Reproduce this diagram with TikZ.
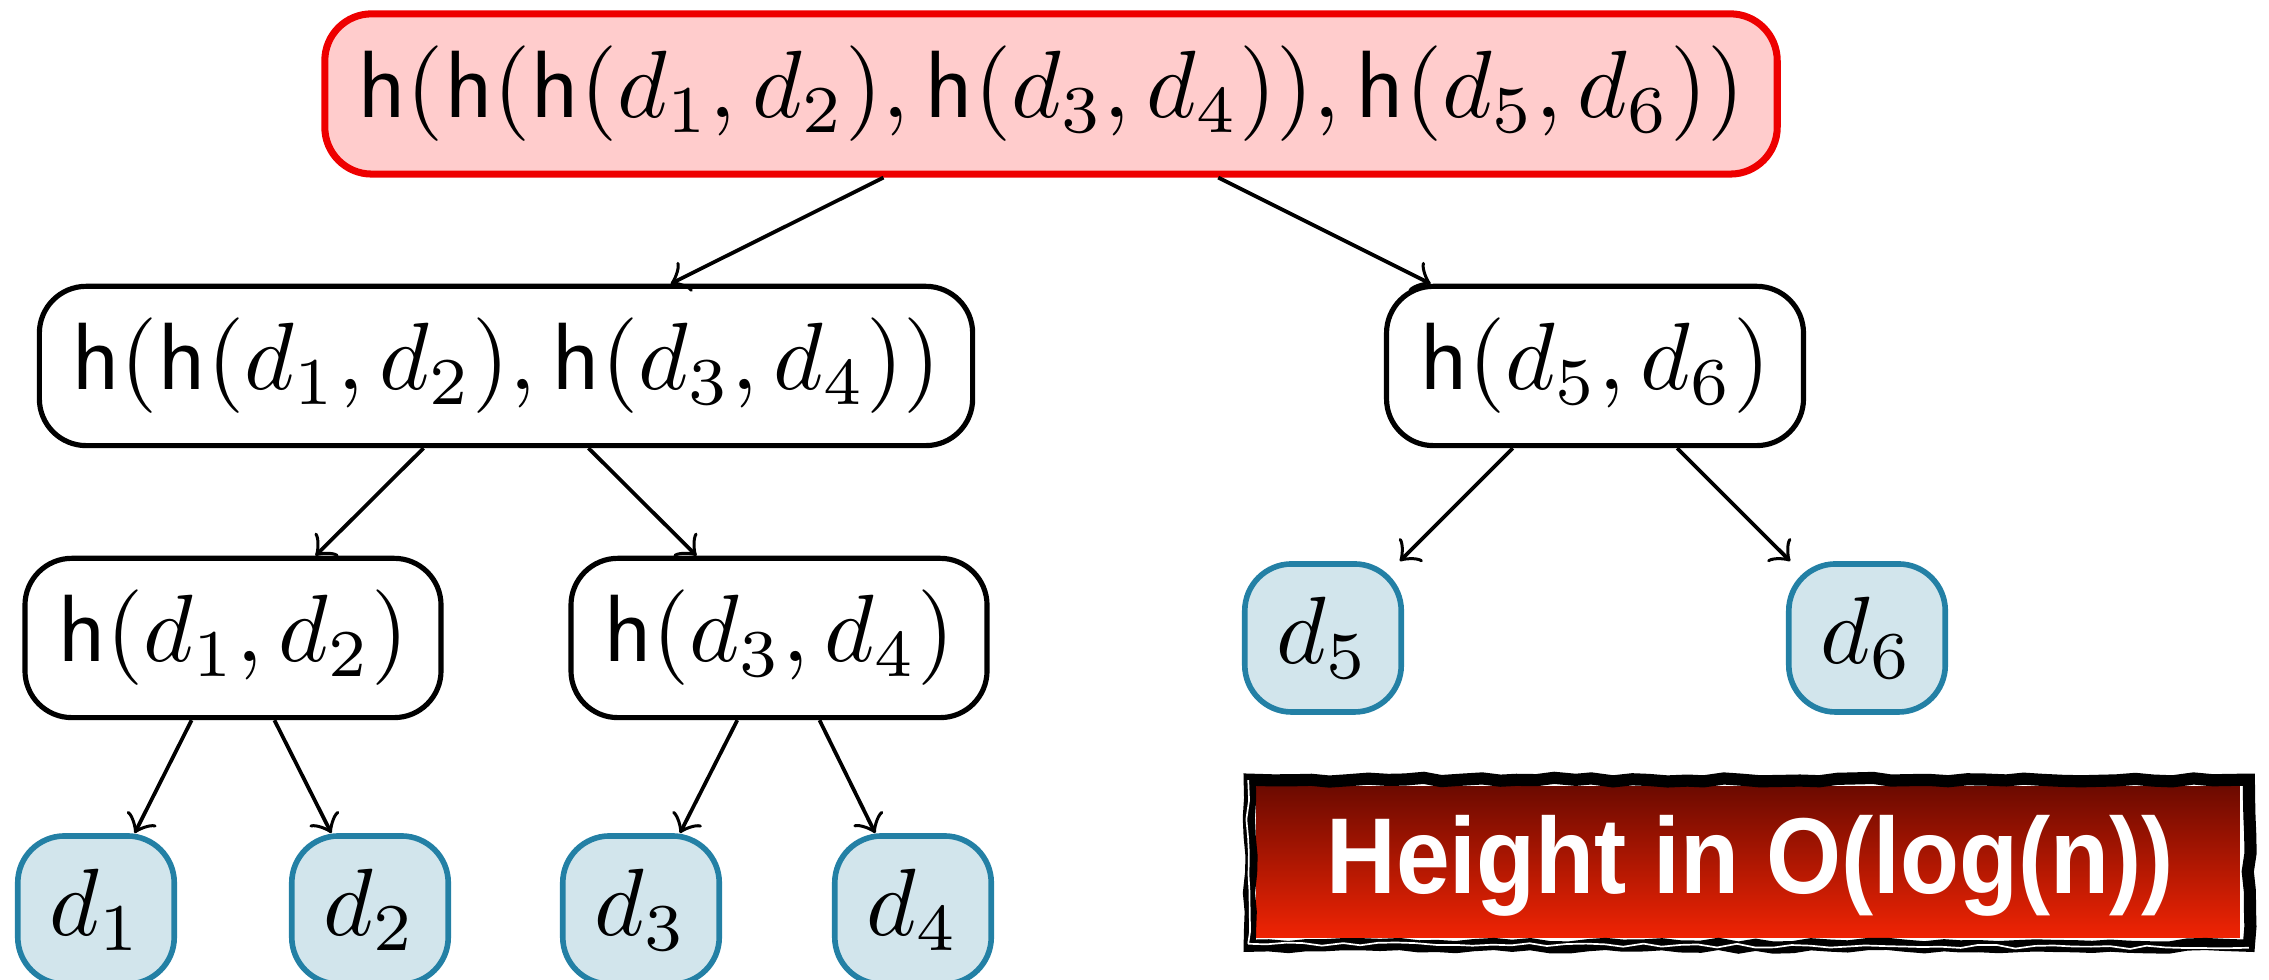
\documentclass[tikz,border=0pt]{standalone}
\usepackage{fontspec}
\newfontfamily\boxfont{Liberation Sans}
\usetikzlibrary{decorations.pathmorphing}
\definecolor{toppink}{RGB}{255,204,204}
\definecolor{topred}{RGB}{238,0,0}
\definecolor{leaffill}{RGB}{210,229,236}
\definecolor{leafline}{RGB}{35,128,165}
\definecolor{hdark}{RGB}{108,10,0}
\definecolor{hlight}{RGB}{240,36,4}
\tikzset{
  hnode/.style={draw=black, line width=0.55pt, rounded corners=5pt, fill=white, inner xsep=1.5pt, minimum height=17pt},
  topnode/.style={hnode, draw=topred, fill=toppink, line width=0.75pt},
  leaf/.style={draw=leafline, fill=leaffill, line width=0.6pt, rounded corners=5pt, minimum width=16.7pt, minimum height=15.8pt, inner sep=1pt},
  edge/.style={->, line width=0.4pt},
  heightbox/.style={minimum width=105pt, minimum height=16.2pt, inner sep=0pt, top color=hdark, bottom color=hlight},
  heighttext/.style={text=white, inner sep=0pt, font=\boxfont\bfseries\fontsize{10.1}{12}\selectfont},
  roughline/.style={decorate, decoration={random steps, segment length=2pt, amplitude=0.2pt}},
}
\newcommand{\hh}{\mathsf{h}}
\newcommand{\mtxt}[1]{\scalebox{1.02}{$#1$}}
\begin{document}
\begin{tikzpicture}[x=0.10672pt, y=-0.10672pt]
\pgfmathsetseed{7}
\useasboundingbox (0,0) rectangle (2269,980);
% nodes
\node[topnode, minimum width=155pt, minimum height=17.1pt] (top) at (1051,94) {\mtxt{\hh(\hh(\hh(d_1,d_2),\hh(d_3,d_4)),\hh(d_5,d_6))}};
\node[hnode, minimum width=99.6pt] (l1) at (506,366) {\mtxt{\hh(\hh(d_1,d_2),\hh(d_3,d_4))}};
\node[hnode, minimum width=44.5pt] (r1) at (1595,366) {\mtxt{\hh(d_5,d_6)}};
\node[hnode, minimum width=44.4pt] (l2a) at (233,638) {\mtxt{\hh(d_1,d_2)}};
\node[hnode, minimum width=44.4pt] (l2b) at (779,638) {\mtxt{\hh(d_3,d_4)}};
\node[leaf] (d5) at (1323,638) {\mtxt{d_5}};
\node[leaf] (d6) at (1867,638) {\mtxt{d_6}};
\node[leaf] (d1) at (96,910) {\mtxt{d_1}};
\node[leaf] (d2) at (370,910) {\mtxt{d_2}};
\node[leaf] (d3) at (641,910) {\mtxt{d_3}};
\node[leaf] (d4) at (913,910) {\mtxt{d_4}};
% edges
\draw[edge] (top) -- (l1);
\draw[edge] (top) -- (r1);
\draw[edge] (l1) -- (l2a);
\draw[edge] (l1) -- (l2b);
\draw[edge] (r1) -- (d5);
\draw[edge] (r1) -- (d6);
\draw[edge] (l2a) -- (d1);
\draw[edge] (l2a) -- (d2);
\draw[edge] (l2b) -- (d3);
\draw[edge] (l2b) -- (d4);
% height box
\node[heightbox] (hb) at (1748,862) {};
\draw[line width=1.3pt, roughline] ([shift={(-4.5,-4.5)}]hb.north west) rectangle ([shift={(7,6)}]hb.south east);
\draw[white, line width=0.18pt, roughline] ([shift={(-6,4)}]hb.south west) -- ([shift={(7,8)}]hb.south east);
\draw[white, line width=0.18pt, roughline] ([shift={(-6,-4)}]hb.north west) -- ([shift={(-6,4)}]hb.south west);
\node[heighttext] (ht) at (1750,866) {\scalebox{1.02}[1.14]{Height in O(log(n))}};
\end{tikzpicture}
\end{document}
